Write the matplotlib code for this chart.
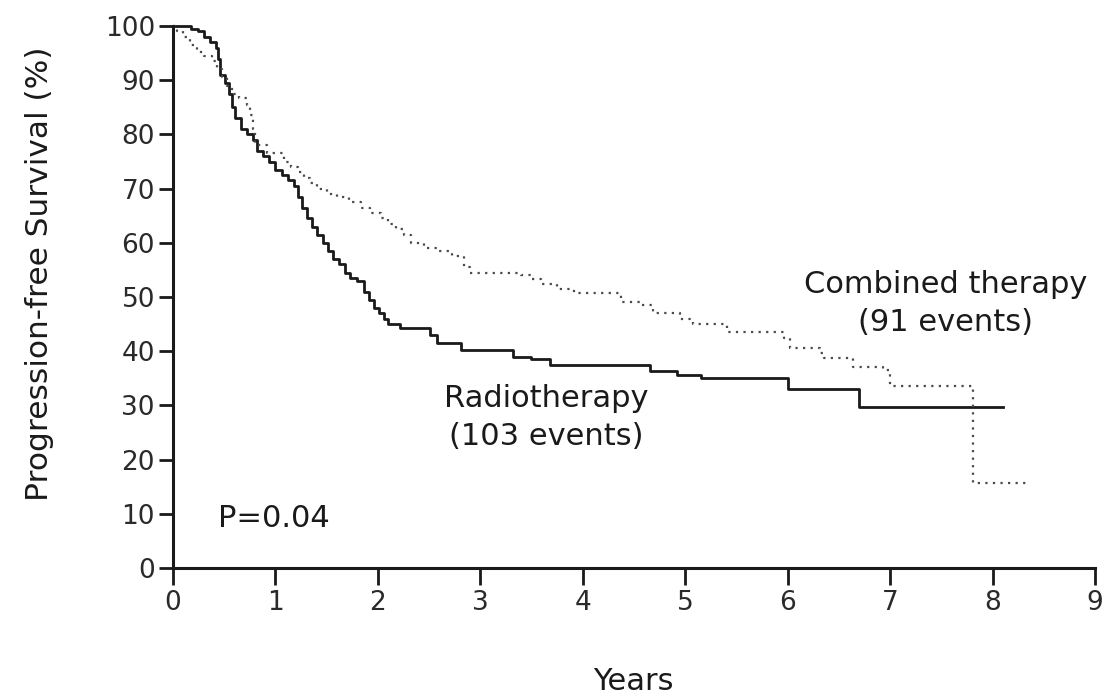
import numpy as np
import matplotlib
matplotlib.use("Agg")
import matplotlib.pyplot as plt

# Kaplan-Meier step data (years, % progression-free)
radio_t = [0.00, 0.18, 0.24, 0.30, 0.36, 0.42, 0.44, 0.46, 0.51, 0.55,
           0.58, 0.61, 0.66, 0.72, 0.78, 0.82, 0.88, 0.94, 1.00, 1.06,
           1.12, 1.18, 1.22, 1.26, 1.31, 1.36, 1.41, 1.46, 1.51, 1.56,
           1.62, 1.68, 1.73, 1.80, 1.86, 1.91, 1.96, 2.01, 2.06, 2.10,
           2.22, 2.51, 2.58, 2.81, 3.32, 3.49, 3.68, 4.66, 4.92, 5.15,
           6.00, 6.70]
radio_s = [100, 99.5, 99, 98, 97, 96, 94, 91, 89.5, 87.5,
           85, 83, 81, 80, 79, 77, 76, 75, 73.5, 72.5,
           71.5, 70.5, 68.5, 66.5, 64.5, 63, 61.5, 60, 58.5, 57,
           56, 54.5, 53.5, 53, 51, 49.5, 48, 47, 46, 45,
           44.3, 43, 41.5, 40.2, 39, 38.5, 37.5, 36.3, 35.7, 35,
           33, 29.7]
radio_end = 8.1

comb_t = [0.00, 0.04, 0.10, 0.17, 0.23, 0.30, 0.38, 0.43, 0.48, 0.53,
          0.58, 0.64, 0.72, 0.75, 0.78, 0.80, 0.92, 1.08, 1.15, 1.22,
          1.28, 1.34, 1.41, 1.50, 1.60, 1.72, 1.84, 1.92, 2.03, 2.10,
          2.18, 2.25, 2.32, 2.45, 2.58, 2.72, 2.84, 2.90, 3.40, 3.49,
          3.59, 3.75, 3.91, 4.37, 4.56, 4.69, 4.95, 5.08, 5.41, 5.96,
          6.02, 6.32, 6.35, 6.64, 6.93, 7.00, 7.81]
comb_s = [100, 99, 98, 96.5, 95.2, 94.5, 93.5, 92, 90.5, 89,
          87.5, 86.7, 85.4, 83.5, 81, 78, 76.5, 75, 74, 73,
          72, 71, 70, 69, 68.5, 67.5, 66.5, 65.5, 64.5, 63.5,
          62.5, 61.5, 60, 59, 58.5, 57.5, 55.5, 54.5, 54, 53.3,
          52.4, 51.5, 50.7, 49, 48.5, 47, 46, 45, 43.5, 42.5,
          40.5, 39.6, 38.7, 37, 36.5, 33.5, 15.6]
comb_end = 8.35

x_ticks = list(range(0, 10))
y_ticks = list(range(0, 101, 10))

ink = "#1a1a1a"
plt.rcParams['font.family'] = ['DejaVu Sans']

W, H = 1104, 699
fig = plt.figure(figsize=(W / 100, H / 100), dpi=100)
ax = fig.add_axes([173 / W, (H - 568) / H, 922 / W, 542 / H])

ax.step(radio_t + [radio_end], radio_s + [radio_s[-1]], where='post',
        color=ink, lw=2.0, clip_on=False)
ax.step(comb_t + [comb_end], comb_s + [comb_s[-1]], where='post',
        color="#4a4a4a", lw=1.6, linestyle=(0, (1, 2.4)), clip_on=False)

ax.set_xlim(0, 9)
ax.set_ylim(0, 100)
ax.set_xticks(x_ticks)
ax.set_yticks(y_ticks)

for side in ("top", "right"):
    ax.spines[side].set_visible(False)
for side in ("left", "bottom"):
    ax.spines[side].set_linewidth(2.2)
    ax.spines[side].set_color(ink)

ax.tick_params(axis='both', direction='out', width=2, color=ink,
               labelsize=19, labelcolor="#2a2a2a")
ax.tick_params(axis='x', length=12, pad=4)
ax.tick_params(axis='y', length=10, pad=3)

# axis titles placed in figure pixels
fig.text(633 / W, 1 - 682 / H, "Years", ha='center', va='center',
         fontsize=22, color=ink)
fig.text(40 / W, 1 - 274 / H, "Progression-free Survival (%)", rotation=90,
         ha='center', va='center', fontsize=22.5, color=ink)

ax.text(7.54, 48.8, "Combined therapy\n(91 events)", ha='center', va='center',
        fontsize=22, color=ink, linespacing=1.4)
ax.text(3.64, 27.7, "Radiotherapy\n(103 events)", ha='center', va='center',
        fontsize=22, color=ink, linespacing=1.4)
ax.text(0.44, 9.2, "P=0.04", ha='left', va='center', fontsize=22, color=ink)

fig.savefig("out.png", dpi=100)
